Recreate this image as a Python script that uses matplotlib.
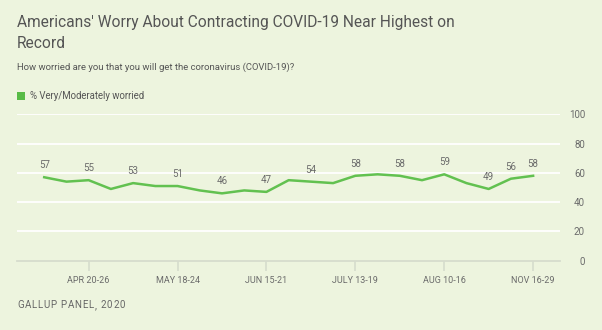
import matplotlib
matplotlib.use("Agg")
import matplotlib.pyplot as plt

# Survey waves, 2020 (Gallup Panel)
values = [57, 54, 55, 49, 53, 51, 51, 48, 46, 48, 47, 55, 54, 53, 58, 59, 58, 55, 59, 53, 49, 56, 58]
labeled = [0, 2, 4, 6, 8, 10, 12, 14, 16, 18, 20, 21, 22]
tick_idx = [2, 6, 10, 14, 18, 22]
tick_labels = ["APR 20-26", "MAY 18-24", "JUN 15-21", "JULY 13-19", "AUG 10-16", "NOV 16-29"]
y_ticks = [0, 20, 40, 60, 80, 100]

title_lines = ["Americans' Worry About Contracting COVID-19 Near Highest on", "Record"]
subtitle = "How worried are you that you will get the coronavirus (COVID-19)?"
series_name = "% Very/Moderately worried"
source = "GALLUP PANEL, 2020"

BG = "#edf4de"
GREEN = "#62c150"
GREY = "#6b6b6b"

W, H = 602, 330
fig = plt.figure(figsize=(W / 100, H / 100), dpi=100, facecolor=BG)
plt.rcParams["font.family"] = ["Roboto", "DejaVu Sans"]

# plot area in pixel coordinates
left, right, top, bottom = 17, 560, 114.3, 260.7
ax = fig.add_axes([left / W, 1 - bottom / H, (right - left) / W, (bottom - top) / H])
ax.set_facecolor(BG)
for s in ax.spines.values():
    s.set_visible(False)

x = list(range(len(values)))
ax.set_xlim(-1.225, len(values) - 1 + 1.21)
ax.set_ylim(0, 100)

for yv in y_ticks:
    if yv == 0:
        ax.axhline(yv, color="#d6dccd", lw=1.3, zorder=1, clip_on=False)
    else:
        ax.axhline(yv, color="white", lw=1.3, zorder=1)

ax.plot(x, values, color=GREEN, lw=1.8, zorder=3, solid_joinstyle="round")

for i in labeled:
    ax.annotate(str(values[i]), (x[i], values[i]), xytext=(0, 5), textcoords="offset points",
                ha="center", va="bottom", fontsize=7, color=GREY)

ax.yaxis.tick_right()
ax.set_yticks(y_ticks)
ax.set_yticklabels([str(v) for v in y_ticks], fontsize=7, color=GREY)
for lbl in ax.get_yticklabels():
    lbl.set_horizontalalignment("right")
ax.tick_params(axis="y", length=0, pad=18)

ax.set_xticks(tick_idx)
ax.set_xticklabels(tick_labels, fontsize=6.5, color=GREY)
ax.tick_params(axis="x", length=7, width=1.2, color="#d6dccd", pad=4)

# header text
fig.text(17 / W, 1 - 22 / H, title_lines[0], fontsize=11.2, color="#555555", va="center", ha="left")
fig.text(17 / W, 1 - 43 / H, title_lines[1], fontsize=11.2, color="#555555", va="center", ha="left")
fig.text(17 / W, 1 - 67 / H, subtitle, fontsize=6.8, color="#555555", va="center", ha="left")
fig.patches.append(plt.Rectangle((17 / W, 1 - 99.5 / H), 7.5 / W, 7.5 / H, transform=fig.transFigure,
                                 facecolor="#58bb46", edgecolor="none"))
fig.text(30 / W, 1 - 96 / H, series_name, fontsize=6.9, color="#555555", va="center", ha="left")

# source line with letter tracking
renderer = fig.canvas.get_renderer()
xpos = 17.0
tracking = 0.75
for ch in source:
    t = fig.text(xpos / W, 1 - 305 / H, ch, fontsize=7, color="#666666", va="center", ha="left")
    if ch == " ":
        adv = 2.6
    else:
        adv = t.get_window_extent(renderer).width
    xpos += adv + tracking

fig.savefig("out.png", dpi=100, facecolor=BG)
